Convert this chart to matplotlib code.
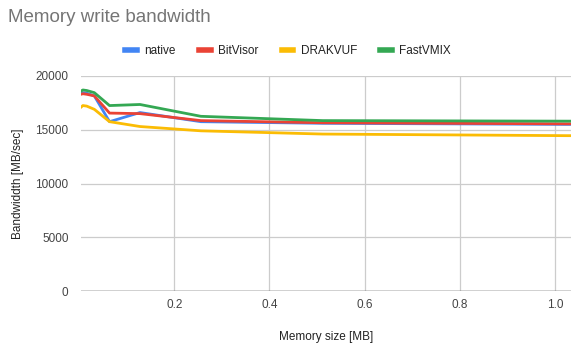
import matplotlib.pyplot as plt
from matplotlib.lines import Line2D

plt.rcParams['font.family'] = ['Liberation Sans', 'DejaVu Sans']

# memory size in MB (the chart is cut at the right edge, last point lies beyond it)
sizes = [0.004, 0.008, 0.016, 0.032, 0.064, 0.128, 0.256, 0.512, 1.024, 2.048]

native = [18400, 18450, 18400, 18150, 15750, 16600, 15750, 15600, 15500, 15480]
bitvisor = [18300, 18350, 18300, 18150, 16550, 16500, 15850, 15650, 15550, 15530]
drakvuf = [17100, 17250, 17200, 16900, 15750, 15300, 14900, 14600, 14450, 14420]
fastvmix = [18600, 18700, 18650, 18450, 17250, 17350, 16250, 15850, 15800, 15780]

series = [
    ('native', native, '#4285f4'),
    ('BitVisor', bitvisor, '#ea4335'),
    ('DRAKVUF', drakvuf, '#fbbc04'),
    ('FastVMIX', fastvmix, '#34a853'),
]

fig = plt.figure(figsize=(5.71, 3.44), dpi=100)
ax = fig.add_axes([81 / 571, 1 - 291 / 344, 1 - 81 / 571, (291 - 76) / 344])

for name, vals, col in series:
    ax.plot(sizes, vals, color=col, lw=2, solid_joinstyle='round', zorder=3)

ax.set_xlim(0.004, 1.034)
ax.set_ylim(0, 20000)
ax.set_xticks([0.2, 0.4, 0.6, 0.8, 1.0])
ax.set_xticklabels(['0.2', '0.4', '0.6', '0.8', '1.0'])
ax.set_yticks([0, 5000, 10000, 15000, 20000])

ax.grid(True, color='#cccccc', lw=0.9, zorder=0)
ax.axhline(0, color='#333333', lw=1, zorder=2)
for s in ax.spines.values():
    s.set_visible(False)
ax.tick_params(length=0, labelsize=8.5, labelcolor='#444444')
ax.tick_params(axis='x', pad=6)
ax.tick_params(axis='y', pad=9)

ax.set_xlabel('Memory size [MB]', fontsize=8.5, color='#222222', labelpad=14)
ax.set_ylabel('Bandwiddth [MB/sec]', fontsize=8.5, color='#222222', labelpad=8)

fig.text(8 / 571, 1 - 18 / 344, 'Memory write bandwidth', fontsize=13.5,
         color='#757575', va='center', ha='left')

handles = [Line2D([0], [0], color=c, lw=4) for _, _, c in series]
fig.legend(handles, [n for n, _, _ in series], loc='center',
           bbox_to_anchor=(288 / 571, 1 - 51 / 344), ncol=4, frameon=False,
           fontsize=8.5, handlelength=1.0, handletextpad=0.6, columnspacing=2.0,
           labelcolor='#222222')

fig.savefig('out.png', dpi=100)
